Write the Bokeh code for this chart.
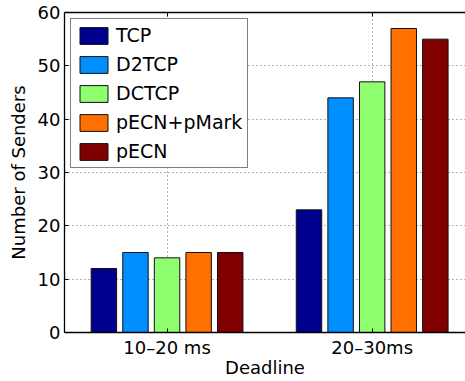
from bokeh.plotting import figure
from bokeh.models import Range1d, FixedTicker, LinearAxis, Legend, LegendItem, ColumnDataSource
from bokeh.transform import dodge
from bokeh.embed import file_html
from bokeh.resources import INLINE

categories = ["10\u201320 ms", "20\u201330ms"]
cat_pos = [1, 2]
series = ["TCP", "D2TCP", "DCTCP", "pECN+pMark", "pECN"]
tcp = [12, 23]
d2tcp = [15, 44]
dctcp = [14, 47]
pecn_pmark = [15, 57]
pecn = [15, 55]
y_ticks = [0, 10, 20, 30, 40, 50, 60]

colors = ["#00008F", "#008FFF", "#8FFF70", "#FF7000", "#800000"]
offsets = [-0.308, -0.154, 0.0, 0.154, 0.308]
values = [tcp, d2tcp, dctcp, pecn_pmark, pecn]

FONT = "DejaVu Sans"

p = figure(width=465, height=381, output_backend="svg", toolbar_location=None,
           x_range=Range1d(0.5, 2.455), y_range=Range1d(0, 60),
           min_border_left=64, min_border_top=12, min_border_right=0, min_border_bottom=49)
p.outline_line_color = None
p.background_fill_color = "white"
p.border_fill_color = "white"

src = ColumnDataSource(dict(x=cat_pos, **{s: v for s, v in zip(series, values)}))
items = []
for s, c, off in zip(series, colors, offsets):
    r = p.vbar(x=dodge("x", off, range=p.x_range), top=s, width=0.124, source=src,
               fill_color=c, line_color="#111111", line_width=1)
    items.append(LegendItem(label=s, renderers=[r]))

# axes
xa = p.xaxis[0]
xa.ticker = FixedTicker(ticks=cat_pos)
xa.major_label_overrides = {k: v for k, v in zip(cat_pos, categories)}
xa.axis_label = "Deadline"
ya = p.yaxis[0]
ya.ticker = FixedTicker(ticks=y_ticks)
ya.axis_label = "Number of Senders"
for ax in (xa, ya):
    ax.axis_line_color = "black"
    ax.axis_line_width = 1.3
    ax.major_tick_line_color = "black"
    ax.minor_tick_line_color = None
    ax.major_label_text_font = FONT
    ax.major_label_text_font_size = "18px"
    ax.major_label_text_color = "black"
    ax.axis_label_text_font = FONT
    ax.axis_label_text_font_size = "18px"
    ax.axis_label_text_font_style = "normal"
    ax.axis_label_text_color = "black"
xa.major_tick_in = 4
xa.major_tick_out = 0
xa.major_label_standoff = 4
xa.axis_label_standoff = -4
ya.major_tick_in = 4
ya.major_tick_out = 0
ya.major_label_standoff = 4
ya.axis_label_standoff = 6

top = LinearAxis(ticker=FixedTicker(ticks=cat_pos), major_label_text_font_size="0px",
                 major_label_standoff=0, major_tick_in=4, major_tick_out=0,
                 axis_line_color="black", axis_line_width=1.3,
                 major_tick_line_color="black", minor_tick_line_color=None)
top.major_label_overrides = {k: "" for k in cat_pos}
p.add_layout(top, "above")

# grid
p.xgrid.ticker = FixedTicker(ticks=cat_pos)
p.ygrid.ticker = FixedTicker(ticks=y_ticks)
for g in (p.xgrid[0], p.ygrid[0]):
    g.grid_line_color = "#666666"
    g.grid_line_dash = "1 3"
    g.grid_line_width = 1
    g.level = "underlay"

legend = Legend(items=items, location="top_left")
legend.margin = 6
legend.padding = 5
legend.spacing = 7
legend.glyph_width = 35
legend.glyph_height = 21
legend.label_standoff = 5
legend.label_text_font = FONT
legend.label_text_font_size = "19px"
legend.label_text_color = "black"
legend.label_height = 21
legend.border_line_color = "black"
legend.border_line_width = 1.5
legend.background_fill_color = "white"
legend.background_fill_alpha = 1
p.add_layout(legend, "center")

open("out.html", "w").write(file_html(p, INLINE))
